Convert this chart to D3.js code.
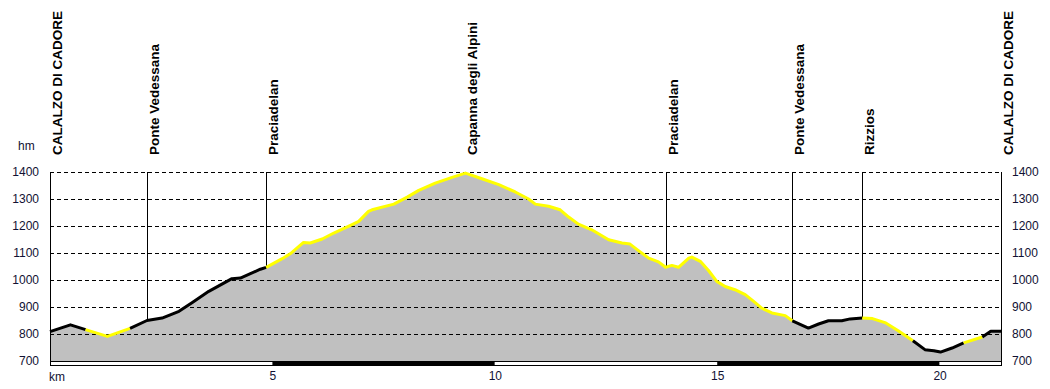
<html>
<head>
<script src="https://d3js.org/d3.v7.min.js"></script>
<style>
body { margin: 0; background: #fff; }
svg { display: block; font-family: 'Liberation Sans', Arial, sans-serif; }
.tick text { fill: #111133; font-size: 12px; }
.wp { font-size: 13.5px; font-weight: bold; fill: #000; }
</style>
</head>
<body>
<svg width="1050" height="389"></svg>
<script>

// profile: distance (km) and elevation (m)
var kmPts = [0, 0.46, 0.8, 1.29, 1.8, 2.18, 2.52, 2.9, 3.2, 3.57,
  4.09, 4.28, 4.73, 4.86, 5.22, 5.4, 5.7, 5.85, 6.12, 6.38,
  6.79, 6.94, 7.16, 7.24, 7.73, 8.03, 8.29, 8.66, 9.04, 9.34,
  9.71, 10.09, 10.46, 10.76, 10.91, 11.21, 11.47, 11.66, 11.88, 12.18,
  12.56, 12.86, 13.04, 13.23, 13.46, 13.68, 13.84, 13.98, 14.13, 14.36,
  14.43, 14.62, 14.8, 14.99, 15.18, 15.4, 15.63, 15.82, 16.0, 16.23,
  16.53, 16.69, 17.05, 17.28, 17.5, 17.8, 17.99, 18.26, 18.49, 18.79,
  19.07, 19.4, 19.67, 19.87, 20.02, 20.28, 20.54, 20.96, 21.15, 21.38];
var elev = [809, 834, 816, 791, 821, 850, 859, 884, 917, 958,
  1005, 1007, 1040, 1047, 1079, 1097, 1139, 1137, 1152, 1174,
  1205, 1217, 1254, 1260, 1281, 1307, 1332, 1359, 1380, 1396,
  1375, 1353, 1326, 1300, 1281, 1273, 1260, 1233, 1207, 1186,
  1149, 1137, 1133, 1109, 1081, 1067, 1047, 1054, 1047, 1081,
  1085, 1069, 1036, 995, 976, 964, 946, 921, 896, 878,
  868, 849, 822, 837, 849, 849, 856, 859, 857, 841,
  812, 775, 742, 738, 733, 748, 767, 789, 810, 810];

// path surface segments (end km + type)
var segEnds = [0.8, 1.8, 4.86, 16.69, 18.26, 19.4, 20.54, 20.96, 21.38];
var segTypes = ["a", "b", "a", "b", "a", "b", "a", "b", "a"];

// waypoints
var wpNames = ["CALALZO DI CADORE", "Ponte Vedessana", "Praciadelan", "Capanna degli Alpini",
  "Praciadelan", "Ponte Vedessana", "Rizzios", "CALALZO DI CADORE"];
var wpKm = [0, 2.18, 4.86, 9.34, 13.84, 16.69, 18.26, 21.38];

var yTicks = [700, 800, 900, 1000, 1100, 1200, 1300, 1400];
var xTicks = [5, 10, 15, 20];

var svg = d3.select("svg");
var x = d3.scaleLinear().domain([0, 21.38]).range([50, 1001]);
var y = d3.scaleLinear().domain([700, 1400]).range([361, 172]);
var segColor = d3.scaleOrdinal().domain(["a", "b"]).range(["#000000", "#ffff00"]);

var pts = kmPts.map(function (k, i) { return [k, elev[i]]; });

// filled area
var area = d3.area().x(function (d) { return x(d[0]); }).y0(y(700)).y1(function (d) { return y(d[1]); });
svg.append("path").datum(pts).attr("d", area).attr("fill", "#c0c0c0");

// grid
svg.selectAll("line.grid").data(yTicks.filter(function (v) { return v > 700; }))
  .enter().append("line").attr("class", "grid")
  .attr("x1", x(0)).attr("x2", x(21.38))
  .attr("y1", function (d) { return Math.round(y(d)) + 0.5; })
  .attr("y2", function (d) { return Math.round(y(d)) + 0.5; })
  .attr("stroke", "#000").attr("stroke-dasharray", "4,3");

// borders
[0, 21.38].forEach(function (k) {
  svg.append("line").attr("x1", Math.round(x(k)) + 0.5).attr("x2", Math.round(x(k)) + 0.5)
    .attr("y1", y(1400)).attr("y2", y(700)).attr("stroke", "#000");
});

// interpolate elevation
function elevAt(k) {
  for (var i = 1; i < pts.length; i++) {
    if (k <= pts[i][0]) {
      var t = (k - pts[i - 1][0]) / (pts[i][0] - pts[i - 1][0]);
      return pts[i - 1][1] + t * (pts[i][1] - pts[i - 1][1]);
    }
  }
  return pts[pts.length - 1][1];
}

// waypoint lines and labels
wpKm.forEach(function (k, i) {
  var lx = Math.round(x(k)) + 0.5;
  svg.append("line").attr("x1", lx).attr("x2", lx)
    .attr("y1", y(1400)).attr("y2", y(elevAt(k))).attr("stroke", "#000");
  svg.append("text").attr("class", "wp")
    .attr("transform", "translate(" + (lx + 11) + ",155) rotate(-90)")
    .attr("text-anchor", "start").text(wpNames[i]);
});

// profile line by segment
var line = d3.line().x(function (d) { return x(d[0]); }).y(function (d) { return y(d[1]); });
segEnds.forEach(function (end, i) {
  var start = i === 0 ? 0 : segEnds[i - 1];
  var seg = pts.filter(function (p) { return p[0] >= start - 1e-9 && p[0] <= end + 1e-9; });
  svg.append("path").datum(seg).attr("d", line).attr("fill", "none")
    .attr("stroke", segColor(segTypes[i])).attr("stroke-width", 3)
    .attr("stroke-linejoin", "round").attr("stroke-linecap", "butt");
});

// km scale bar
var bands = d3.range(0, 21.38, 5);
svg.selectAll("rect.band").data(bands).enter().append("rect").attr("class", "band")
  .attr("x", function (d) { return x(d); })
  .attr("width", function (d) { return x(Math.min(d + 5, 21.38)) - x(d); })
  .attr("y", 361.5).attr("height", 4)
  .attr("fill", function (d, i) { return i % 2 ? "#000" : "#fff"; });
svg.append("rect").attr("x", x(0) + 0.5).attr("y", 361.5).attr("width", x(21.38) - x(0)).attr("height", 4)
  .attr("fill", "none").attr("stroke", "#000");

// axes
var fmt = d3.format("d");
svg.append("g").attr("transform", "translate(" + x(0) + ",0)")
  .call(d3.axisLeft(y).tickValues(yTicks).tickFormat(fmt).tickSize(0).tickPadding(11));
svg.append("g").attr("transform", "translate(" + x(21.38) + ",0)")
  .call(d3.axisRight(y).tickValues(yTicks).tickFormat(fmt).tickSize(0).tickPadding(11));
svg.append("g").attr("transform", "translate(0,361)")
  .call(d3.axisBottom(x).tickValues(xTicks).tickFormat(fmt).tickSize(0).tickPadding(10));
svg.selectAll(".domain").remove();

svg.append("text").attr("x", 18).attr("y", 150).attr("font-size", 12).attr("fill", "#111133").text("hm");
svg.append("text").attr("x", 49).attr("y", 381).attr("font-size", 12).attr("fill", "#111133").text("km");

</script>
</body>
</html>
